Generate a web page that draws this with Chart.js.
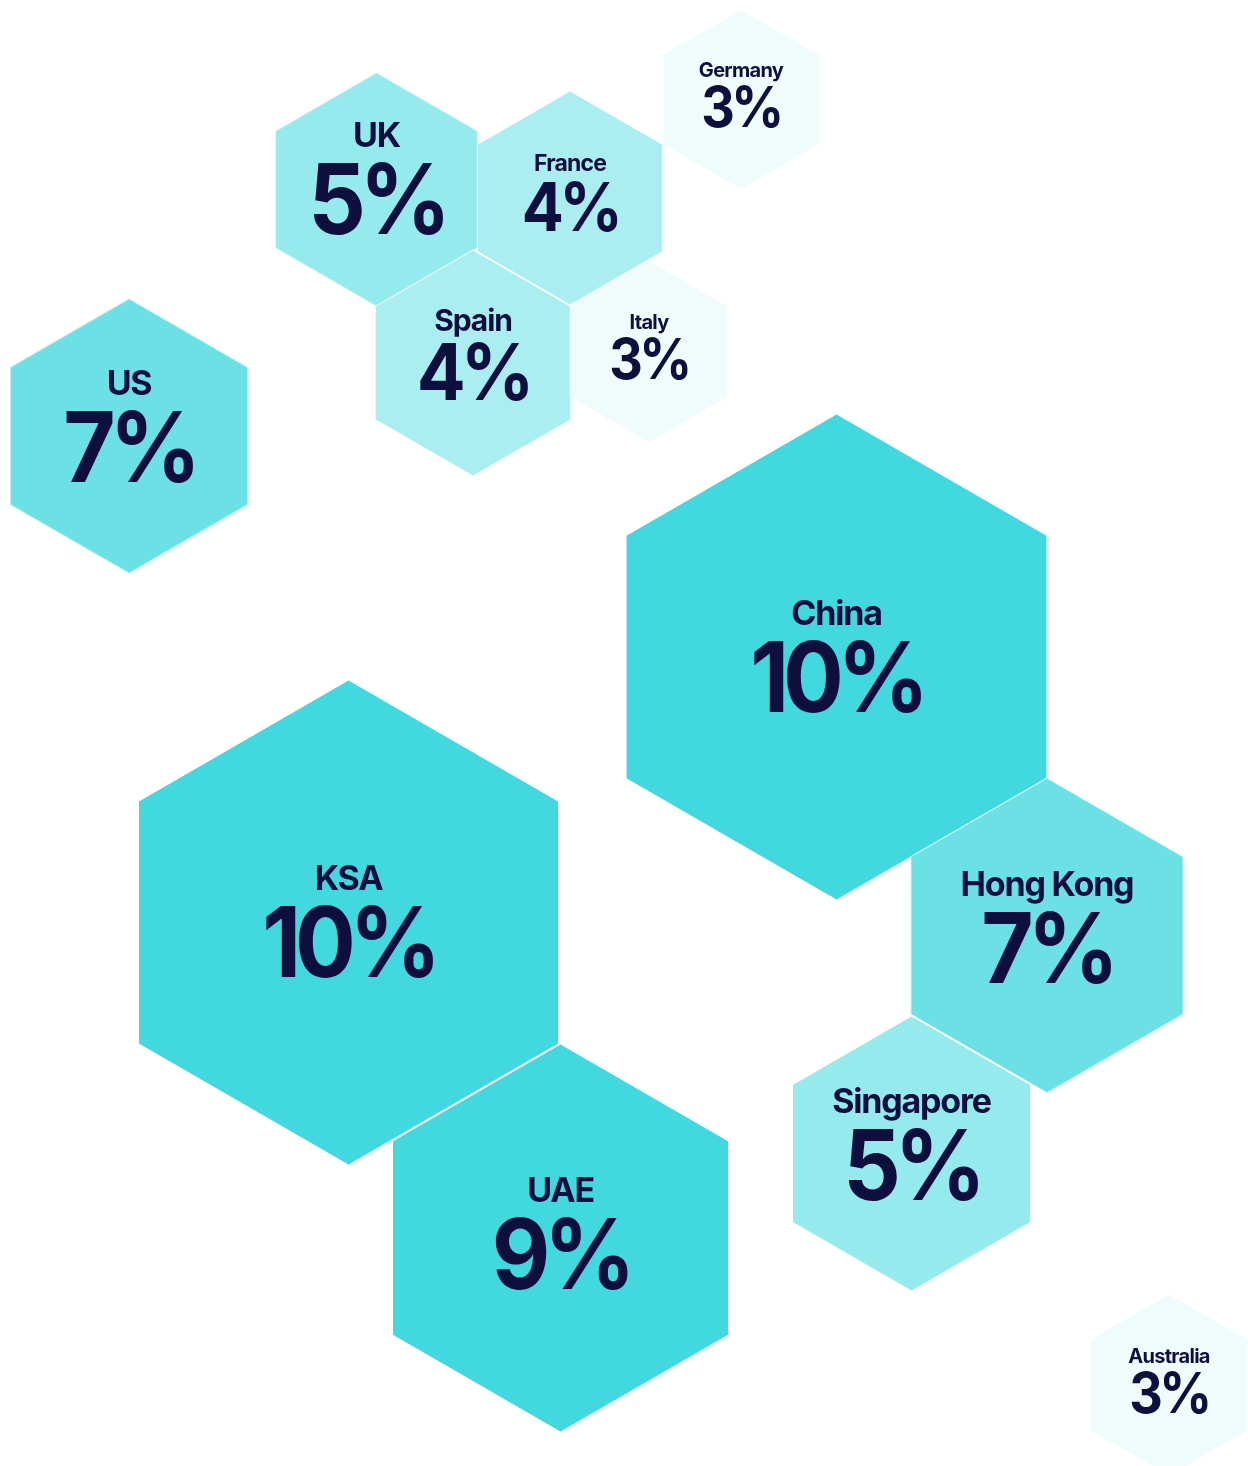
<!DOCTYPE html>
<html>
<head>
<meta charset="utf-8">
<script src="https://cdn.jsdelivr.net/npm/chart.js@4.4.1/dist/chart.umd.min.js"></script>
<style>
  html, body { margin: 0; padding: 0; background: #ffffff; }
  #wrap { width: 1248px; height: 1466px; }
</style>
</head>
<body>
<div id="wrap"><canvas id="graficoHex" width="1248" height="1466"></canvas></div>
<script>
// dados do gráfico
const paises = ["US", "UK", "France", "Germany", "Spain", "Italy", "China", "KSA", "Hong Kong", "UAE", "Singapore", "Australia"];
const percentuais = [7, 5, 4, 3, 4, 3, 10, 10, 7, 9, 5, 3];
const centroX = [129, 376.5, 570, 741, 473, 649, 836.5, 348.5, 1047, 560.5, 911.5, 1169];
const centroY = [436, 189.5, 198, 99.5, 363, 351.5, 657, 922.5, 935.5, 1238, 1153.5, 1385];
const raioHex = [137.5, 117, 107, 90, 113, 91, 243, 242.5, 157.5, 194, 137.5, 91];

// estilos
const coresPorPercentual = { 10: "#42D8DF", 9: "#42D8DF", 7: "#6CE1E5", 5: "#95EAED", 4: "#ABEEF1", 3: "#F0FBFC" };
const corTexto = "#0E0F3F";
const fontes = {
  "France": { label: 23, valor: 67 },
  "Spain": { label: 30, valor: 78 },
  "Italy": { label: 20, valor: 56 },
  "Germany": { label: 20, valor: 56 },
  "Australia": { label: 20, valor: 56 },
};
const fontePadrao = { label: 34, valor: 97 };

const cacheHex = {};
function raioPixel(chart, i) {
  const x = chart.scales.x;
  return Math.abs(x.getPixelForValue(centroX[i] + raioHex[i]) - x.getPixelForValue(centroX[i]));
}

function desenharHex(chart, i) {
  const r = raioPixel(chart, i);
  const chave = i + "_" + r.toFixed(1);
  if (cacheHex[chave]) return cacheHex[chave];
  const w = Math.ceil(2 * r * Math.cos(Math.PI / 6)) + 2;
  const h = Math.ceil(2 * r) + 2;
  const c = document.createElement("canvas");
  c.width = w;
  c.height = h;
  const g = c.getContext("2d");
  g.beginPath();
  for (let k = 0; k < 6; k++) {
    const ang = -Math.PI / 2 + k * Math.PI / 3;
    const px = w / 2 + r * Math.cos(ang);
    const py = h / 2 + r * Math.sin(ang);
    if (k === 0) g.moveTo(px, py); else g.lineTo(px, py);
  }
  g.closePath();
  g.fillStyle = coresPorPercentual[percentuais[i]];
  g.fill();
  g.strokeStyle = "#ffffff";
  g.lineWidth = 1;
  g.stroke();
  cacheHex[chave] = c;
  return c;
}

const textoHex = {
  id: "textoHex",
  afterDatasetsDraw(chart) {
    const ctx = chart.ctx;
    const meta = chart.getDatasetMeta(0);
    meta.data.forEach((el, i) => {
      const f = fontes[paises[i]] || fontePadrao;
      const r = raioPixel(chart, i);
      const capValor = f.valor * 0.727;
      const centroValor = el.y + 0.08 * r;
      const baseValor = centroValor + capValor / 2;
      const baseLabel = centroValor - 0.66 * f.valor + (f.label * 0.727) / 2;
      ctx.save();
      ctx.fillStyle = corTexto;
      ctx.textAlign = "center";
      ctx.textBaseline = "alphabetic";
      ctx.font = `700 ${f.label}px Inter`;
      ctx.letterSpacing = `${(-0.035 * f.label).toFixed(1)}px`;
      ctx.fillText(paises[i], el.x, baseLabel);
      // valor um pouco mais estreito
      ctx.translate(el.x, baseValor);
      ctx.scale(0.93, 1);
      ctx.font = `700 ${f.valor}px Inter`;
      ctx.letterSpacing = `${(-0.07 * f.valor).toFixed(1)}px`;
      ctx.fillText(percentuais[i] + "%", 0, 0);
      ctx.restore();
    });
  },
};

new Chart(document.getElementById("graficoHex"), {
  type: "scatter",
  data: {
    datasets: [
      {
        label: "Share",
        data: paises.map((p, i) => ({ x: centroX[i], y: centroY[i] })),
        pointStyle: (ctx) => desenharHex(ctx.chart, ctx.dataIndex),
        pointRadius: (ctx) => raioPixel(ctx.chart, ctx.dataIndex),
      },
    ],
  },
  options: {
    responsive: false,
    animation: false,
    layout: { padding: 0 },
    plugins: {
      legend: { display: false },
      tooltip: { enabled: false },
    },
    scales: {
      x: { type: "linear", min: 0, max: 1248, display: false },
      y: { type: "linear", min: 0, max: 1466, reverse: true, display: false },
    },
  },
  plugins: [textoHex],
});
</script>
</body>
</html>
